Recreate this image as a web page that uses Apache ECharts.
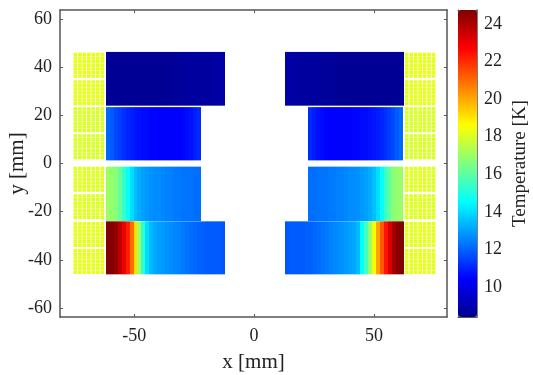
<!DOCTYPE html>
<html lang="en">
<head>
    <meta charset="UTF-8">
    <title>Temperature map</title>
    <script src="https://cdn.jsdelivr.net/npm/echarts@6/dist/echarts.min.js"></script>
    <style>html,body{margin:0;padding:0;background:#fff;}</style>
</head>
<body>
<div id="main" style="width:533px;height:375px;"></div>
<script type="text/javascript">
    var xTicks = [-50, 0, 50];
    var yTicks = [-60, -40, -20, 0, 20, 40, 60];
    var barTicks = [10, 12, 14, 16, 18, 20, 22, 24];
    var jet = ['#00008f', '#0000ff', '#0080ff', '#00ffff', '#80ff80', '#ffff00', '#ff8000', '#ff0000', '#800000'];

    // column temperatures of each block, left to right
    var topLeft = [8.5, 8.5, 8.5, 8.5, 8.5, 8.5, 8.5, 8.5, 8.5, 8.5, 8.5, 8.5, 8.5, 8.5, 8.5, 8.5, 8.5, 8.6, 8.6, 8.6, 8.7, 8.7, 8.7, 8.7, 8.7, 8.7, 8.7, 8.8, 8.8, 8.8];
    var topRight = [8.8, 8.8, 8.8, 8.7, 8.7, 8.7, 8.7, 8.7, 8.7, 8.6, 8.6, 8.6, 8.6, 8.5, 8.5, 8.5, 8.5, 8.5, 8.5, 8.5, 8.5, 8.5, 8.5, 8.5, 8.5, 8.5, 8.5, 8.5, 8.5, 8.5];
    var upperLeft = [12.1, 11.9, 11.6, 11.4, 11.2, 11.0, 10.9, 10.8, 10.7, 10.6, 10.6, 10.5, 10.5, 10.4, 10.4, 10.4, 10.4, 10.4, 10.4, 10.5, 10.6, 10.7, 10.9, 11.1];
    var upperRight = [11.1, 10.9, 10.7, 10.6, 10.5, 10.4, 10.4, 10.4, 10.4, 10.4, 10.4, 10.5, 10.5, 10.6, 10.6, 10.7, 10.8, 10.9, 11.0, 11.2, 11.4, 11.6, 11.9, 12.1];
    var lowerLeft = [17.0, 16.9, 16.7, 16.1, 15.4, 14.6, 14.0, 13.5, 13.2, 13.0, 12.9, 12.8, 12.7, 12.7, 12.6, 12.5, 12.5, 12.4, 12.4, 12.3, 12.3, 12.3, 12.2, 12.2];
    var lowerRight = [12.2, 12.2, 12.3, 12.3, 12.3, 12.4, 12.4, 12.5, 12.5, 12.6, 12.7, 12.7, 12.8, 12.9, 13.0, 13.2, 13.5, 14.0, 14.6, 15.4, 16.1, 16.7, 16.9, 17.0];
    var bottomLeft = [24.7, 24.7, 24.4, 23.8, 23.0, 22.2, 21.0, 19.2, 17.2, 15.2, 14.0, 13.4, 13.1, 13.0, 12.9, 12.8, 12.7, 12.6, 12.5, 12.4, 12.3, 12.2, 12.1, 12.0, 12.0, 11.9, 11.9, 11.9, 11.9, 11.8];
    var bottomRight = [11.8, 11.9, 11.9, 11.9, 11.9, 12.0, 12.0, 12.1, 12.2, 12.3, 12.4, 12.5, 12.6, 12.7, 12.8, 12.9, 13.0, 13.1, 13.4, 14.6, 15.6, 17.0, 18.5, 20.1, 21.3, 22.4, 23.3, 24.2, 24.6, 24.7];
    // yellow coil packs, top to bottom
    var coilTemps = [18.2, 18.2, 18.0, 18.0, 18.1, 18.1, 18.2, 18.2];
    var coilTops = [46, 34.6, 23.4, 12.2, -1.3, -12.7, -24.2, -35.4];
    var coilColumns = [63.3, 65.2, 67.05, 68.9, 70.75, 72.6, 74.5];

    // block extents in mm: [temps, xStart, yTop, yBottom]
    var blocks = [
        [topLeft, -61.8, 46.3, 24],
        [topRight, 12.9, 46.3, 24],
        [upperLeft, -61.8, 23.4, 1.3],
        [upperRight, 22.6, 23.4, 1.3],
        [lowerLeft, -61.8, -1.3, -23.9],
        [lowerRight, 22.6, -1.3, -23.9],
        [bottomLeft, -61.8, -24, -46],
        [bottomRight, 12.9, -24, -46]
    ];

    var cellWidth = 1.65;
    var cells = [];
    blocks.forEach(function (b) {
        b[0].forEach(function (t, i) {
            cells.push([b[1] + i * cellWidth, b[1] + (i + 1) * cellWidth, b[2], b[3], t]);
        });
    });
    var coilCells = [];
    coilTops.forEach(function (top, k) {
        for (var r = 0; r < 7; r++) {
            coilColumns.forEach(function (c) {
                [-1, 1].forEach(function (side) {
                    var x = side < 0 ? -c : c + 0.3;
                    var y = top - 0.75 - r * 1.5;
                    coilCells.push([x - 0.76, x + 0.76, y + 0.7, y - 0.7, coilTemps[k]]);
                });
            });
        }
    });

    var font = '"Liberation Serif", "Times New Roman", serif';
    var axisColor = '#555';
    var textColor = '#222';

    function frameAxis(extra, min, max, ticks, labelled, margin) {
        var axis = {
            type: 'value',
            min: min,
            max: max,
            splitLine: {show: false},
            axisLine: {show: true, onZero: false, lineStyle: {color: axisColor, width: 1.5}},
            axisTick: {show: true, inside: true, length: 3, customValues: ticks, lineStyle: {color: axisColor}},
            axisLabel: labelled
                ? {show: true, customValues: ticks, color: textColor, fontFamily: font, fontSize: 18, margin: margin}
                : {show: false}
        };
        for (var k in extra) axis[k] = extra[k];
        return axis;
    }

    function barEdge(extra) {
        var axis = {
            gridIndex: 1, type: 'value', min: 0, max: 1,
            axisLine: {show: true, onZero: false, lineStyle: {color: axisColor}},
            axisTick: {show: false}, axisLabel: {show: false}, splitLine: {show: false}
        };
        for (var k in extra) axis[k] = extra[k];
        return axis;
    }

    function cellRender(snap) {
        return function (params, api) {
            var a = api.coord([api.value(0), api.value(2)]);
            var b = api.coord([api.value(1), api.value(3)]);
            if (snap) {
                a = [Math.round(a[0]), a[1]];
                b = [Math.round(b[0]), b[1]];
            }
            return {
                type: 'rect',
                shape: {x: a[0], y: a[1], width: b[0] - a[0], height: b[1] - a[1]},
                style: {fill: api.visual('color')}
            };
        };
    }

    var option = {
        backgroundColor: '#fff',
        animation: false,
        grid: [
            {left: 60, top: 10, width: 387, height: 307, outerBoundsMode: 'none'},
            {left: 458, top: 10, width: 19, height: 307, outerBoundsMode: 'none'}
        ],
        xAxis: [
            frameAxis({
                position: 'bottom', name: 'x [mm]', nameLocation: 'middle', nameGap: 35, nameMoveOverlap: false,
                nameTextStyle: {color: textColor, fontFamily: font, fontSize: 21}
            }, -80.9, 80.4, xTicks, true, 10),
            frameAxis({position: 'top'}, -80.9, 80.4, xTicks, false),
            barEdge({position: 'bottom'}),
            barEdge({position: 'top'})
        ],
        yAxis: [
            frameAxis({
                position: 'left', name: 'y [mm]', nameLocation: 'middle', nameGap: 32, nameRotate: 90, nameMoveOverlap: false,
                nameTextStyle: {color: textColor, fontFamily: font, fontSize: 21}
            }, -63.7, 63.7, yTicks, true, 8),
            frameAxis({position: 'right'}, -63.7, 63.7, yTicks, false),
            frameAxis({
                gridIndex: 1, position: 'right', name: 'Temperature [K]', nameLocation: 'middle', nameGap: 34, nameRotate: 90, nameMoveOverlap: false,
                nameTextStyle: {color: textColor, fontFamily: font, fontSize: 19}
            }, 8.4, 24.75, barTicks, true, 7),
            barEdge({position: 'left'})
        ],
        visualMap: {
            type: 'continuous',
            min: 8.4,
            max: 24.75,
            dimension: 4,
            seriesIndex: [0, 1],
            inRange: {color: jet},
            calculable: false,
            hoverLink: false,
            left: 458,
            top: 10,
            padding: 0,
            itemWidth: 19,
            itemHeight: 307
        },
        series: [{
            type: 'custom',
            xAxisIndex: 0,
            yAxisIndex: 0,
            silent: true,
            data: cells,
            encode: {x: [0, 1], y: [2, 3]},
            renderItem: cellRender(true)
        }, {
            type: 'custom',
            xAxisIndex: 0,
            yAxisIndex: 0,
            silent: true,
            data: coilCells,
            encode: {x: [0, 1], y: [2, 3]},
            renderItem: cellRender(false)
        }]
    };

    var myChart = echarts.init(document.getElementById('main'));
    myChart.setOption(option);
</script>
</body>
</html>
